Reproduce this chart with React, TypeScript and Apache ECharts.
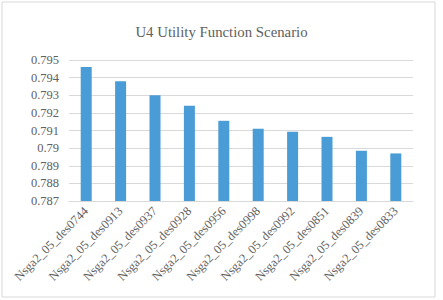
import React, { useEffect, useRef } from "react";
import * as echarts from "echarts";

const categories = [
  "Nsga2_05_des0744",
  "Nsga2_05_des0913",
  "Nsga2_05_des0937",
  "Nsga2_05_des0928",
  "Nsga2_05_des0956",
  "Nsga2_05_des0998",
  "Nsga2_05_des0992",
  "Nsga2_05_des0851",
  "Nsga2_05_des0839",
  "Nsga2_05_des0833",
];
const values = [0.7946, 0.7938, 0.7930, 0.7924, 0.79155, 0.7911, 0.79093, 0.79064, 0.78985, 0.7897];
const titleText = "U4 Utility Function Scenario";
const yMin = 0.787;
const yMax = 0.795;
const yStep = 0.001;

const FONT = "'Liberation Serif', 'Times New Roman', serif";
const TEXT = "#606060";

export default function App() {
  const ref = useRef<HTMLDivElement>(null);
  useEffect(() => {
    if (!ref.current) return;
    const chart = echarts.init(ref.current, null, { renderer: "svg" });
    chart.setOption({
      animation: false,
      backgroundColor: "#ffffff",
      title: {
        text: titleText,
        left: "center",
        top: 19,
        textStyle: { fontFamily: FONT, fontSize: 14.8, fontWeight: "normal", color: TEXT },
      },
      graphic: [
        {
          type: "rect",
          shape: { x: 2, y: 2, width: 433, height: 295 },
          style: { fill: "none", stroke: "#d9d9d9", lineWidth: 1 },
          silent: true,
        },
      ],
      grid: { left: 69, right: 30, top: 60, bottom: 99, containLabel: false },
      xAxis: {
        type: "category",
        data: categories,
        axisLine: { lineStyle: { color: "#d9d9d9" } },
        axisTick: { show: false },
        axisLabel: {
          rotate: 45,
          interval: 0,
          margin: 8,
          fontFamily: FONT,
          fontSize: 12.5,
          color: TEXT,
        },
      },
      yAxis: {
        type: "value",
        min: yMin,
        max: yMax,
        interval: yStep,
        axisLine: { show: false },
        axisTick: { show: false },
        splitLine: { lineStyle: { color: "#d9d9d9" } },
        axisLabel: {
          margin: 10,
          fontFamily: FONT,
          fontSize: 12.5,
          color: TEXT,
          formatter: (v: number) => String(parseFloat(v.toFixed(3))),
        },
      },
      series: [
        {
          type: "bar",
          data: values,
          barWidth: 11,
          itemStyle: { color: "#4a9cd6" },
        },
      ],
    });
    return () => chart.dispose();
  }, []);
  return (
    <div
      ref={ref}
      style={{ position: "absolute", left: 0, top: 0, width: 443, height: 300 }}
    />
  );
}
